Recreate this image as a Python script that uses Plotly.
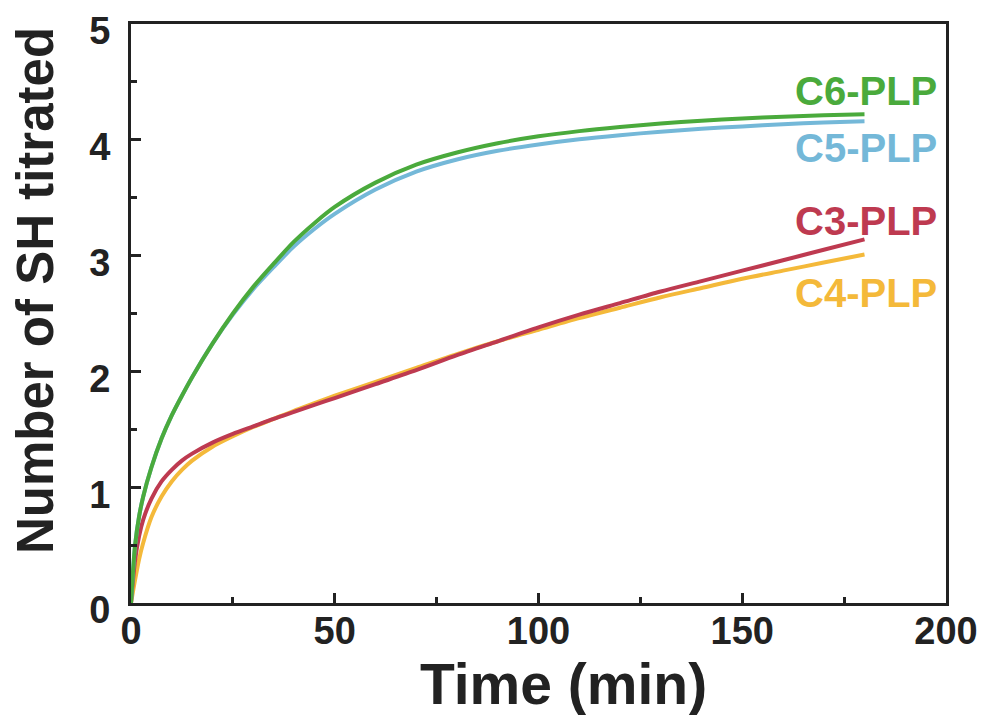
import plotly.graph_objects as go

t_c6 = [0, 1, 2, 3, 5, 7.5, 10, 12.5, 15, 20, 25, 30, 35, 40, 45, 50, 60, 70, 80, 90, 100, 110, 120, 130, 140, 150, 160, 170, 180]
c6 = [0, 0.5, 0.75, 0.92, 1.17, 1.42, 1.62, 1.79, 1.95, 2.24, 2.5, 2.73, 2.93, 3.12, 3.28, 3.42, 3.63, 3.785,
      3.89, 3.97, 4.03, 4.075, 4.11, 4.14, 4.165, 4.185, 4.2, 4.212, 4.22]
t_c5 = t_c6
c5 = [0, 0.5, 0.75, 0.92, 1.17, 1.42, 1.62, 1.79, 1.95, 2.24, 2.49, 2.71, 2.9, 3.08, 3.23, 3.36, 3.57, 3.725,
      3.83, 3.905, 3.96, 4.005, 4.04, 4.07, 4.095, 4.115, 4.135, 4.15, 4.16]
t_c3 = t_c6
c3 = [0, 0.37, 0.58, 0.72, 0.9, 1.05, 1.15, 1.23, 1.29, 1.385, 1.46, 1.525, 1.59, 1.65, 1.71, 1.77, 1.89, 2.01,
      2.14, 2.26, 2.38, 2.49, 2.59, 2.69, 2.78, 2.87, 2.96, 3.05, 3.14]
t_c4 = t_c6
c4 = [0, 0.2, 0.38, 0.52, 0.74, 0.92, 1.05, 1.15, 1.23, 1.35, 1.44, 1.52, 1.59, 1.66, 1.725, 1.79, 1.91, 2.03,
      2.15, 2.26, 2.36, 2.46, 2.55, 2.64, 2.72, 2.8, 2.87, 2.94, 3.01]

labels = ["C6-PLP", "C5-PLP", "C3-PLP", "C4-PLP"]
label_y = [4.42, 3.93, 3.30, 2.68]
colors = ["#4aaa3c", "#74b8d8", "#be3a50", "#f4b93a"]

FONT = "Liberation Sans, Arial, sans-serif"

fig = go.Figure()
series = [(t_c4, c4, colors[3]), (t_c3, c3, colors[2]), (t_c5, c5, colors[1]), (t_c6, c6, colors[0])]
for t, v, c in series:
    fig.add_trace(go.Scatter(x=t, y=v, mode="lines", line=dict(color=c, width=4, shape="spline", smoothing=0.8),
                             showlegend=False, hoverinfo="skip"))

for lab, yy, c in zip(labels, label_y, colors):
    fig.add_annotation(x=198.2, y=yy, xref="x", yref="y", text=lab, showarrow=False,
                       xanchor="right", yanchor="middle",
                       font=dict(family=FONT, size=40, color=c, weight="bold"))

# page body has an 8px margin, so figure coords are screen coords minus 8
OFF = 8
W, H = 987, 715
L, T = 131 - OFF, 24 - OFF
R = W - (946 - OFF)
B = H - (603 - OFF)
pw, ph = W - L - R, H - T - B

def px(xs):
    return (xs - OFF - L) / pw

def py(ys):
    return (H - B - (ys - OFF)) / ph

fig.add_annotation(x=px(563), y=py(684), xref="paper", yref="paper",
                   xanchor="center", yanchor="middle", text="Time (min)", showarrow=False,
                   font=dict(family=FONT, size=57, color="#222222", weight="bold"))
fig.add_annotation(x=px(35), y=py(291), xref="paper", yref="paper",
                   xanchor="center", yanchor="middle", text="Number of SH titrated", showarrow=False,
                   textangle=-90, font=dict(family=FONT, size=51, color="#222222", weight="bold"))

axis_common = dict(showline=True, linecolor="#222222", linewidth=3, mirror=True, ticks="inside",
                   tickwidth=3, ticklen=10, tickcolor="#222222", showgrid=False, zeroline=False,
                   automargin=False, ticklabeloverflow="allow",
                   tickfont=dict(family=FONT, size=38, color="#222222", weight="bold"))

fig.update_xaxes(range=[0, 200], tick0=0, dtick=50, **axis_common,
                 minor=dict(dtick=25, ticks="inside", ticklen=6, tickwidth=3, tickcolor="#222222"),
                 ticklabelstandoff=-8)
fig.update_yaxes(range=[0, 5], tick0=0, dtick=1, **axis_common,
                 minor=dict(dtick=0.5, ticks="inside", ticklen=6, tickwidth=3, tickcolor="#222222"),
                 ticklabelstandoff=10, ticklabelshift=7)

fig.update_layout(width=W, height=H, margin=dict(l=L, r=R, t=T, b=B),
                  plot_bgcolor="white", paper_bgcolor="white")

fig.write_html("out.html")
